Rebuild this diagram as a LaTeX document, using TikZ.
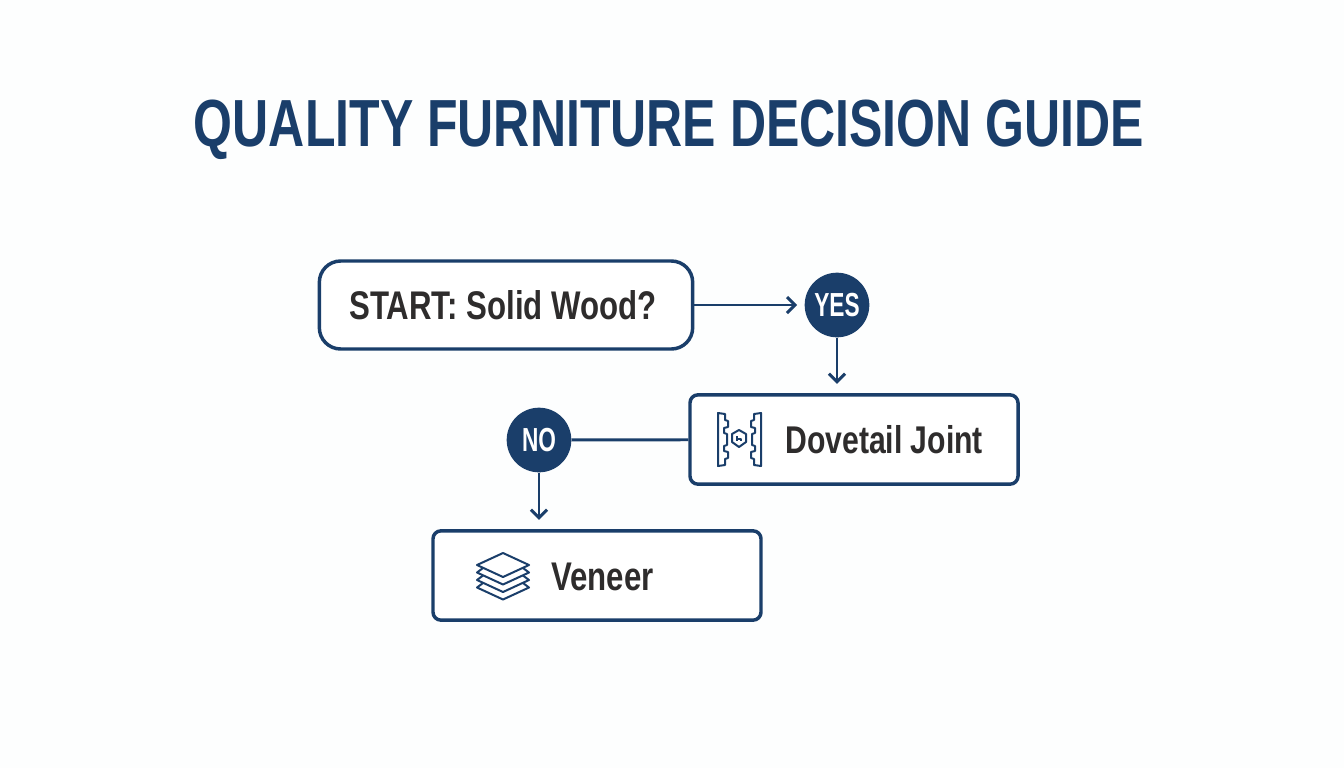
\documentclass[tikz,border=0pt]{standalone}
\usepackage{xcolor}
\usepackage{fontspec}
\setmainfont[FakeStretch=0.75]{Liberation Sans}
\newfontfamily\MyWide[FakeStretch=0.78]{Liberation Sans}
\newfontfamily\MyTight[FakeStretch=0.68]{Liberation Sans}
\usepackage{tikz,pgffor}
\definecolor{MyBlue}{HTML}{1A3E6A}
\definecolor{MyInk}{HTML}{2E2C2C}
\definecolor{MyPaper}{HTML}{FDFEFE}
\tikzset{
	MyPixels/.style={x=0.75pt,y=-0.75pt},
	MyBox/.style={draw=MyBlue,line width=2.6pt,fill=white,rounded corners=6pt,inner sep=0pt},
	MyBadge/.style={circle,fill=MyBlue,text=white,minimum size=48.5pt,inner sep=0pt,font=\MyTight\bfseries\fontsize{25}{27}\selectfont},
	MyLabel/.style={text=MyInk,inner sep=0pt,font=\MyWide\bfseries\fontsize{30}{32}\selectfont},
	MyLink/.style={draw=MyBlue,line width=2.2pt},
	MyTip/.style={-{Straight Barb[length=6pt,width=12pt,line width=2.2pt]}},
	MyIcon/.style={draw=MyBlue,line width=1.5pt,line join=round}
		}
\usetikzlibrary{arrows.meta}

\begin{document}
\begin{tikzpicture}[MyPixels]
	\fill[MyPaper] (0,0) rectangle (1344,768);
	\useasboundingbox (0,0) rectangle (1344,768);

	\node[text=MyBlue,inner sep=0pt,font=\bfseries\fontsize{50}{54}\selectfont] (title) at (669,130) {QUALITY FURNITURE DECISION GUIDE};

	\node[MyBox,rounded corners=16pt,minimum width=280pt,minimum height=66pt] (start) at (506,305) {};
	\node[MyLabel] (startlabel) at (503,305) {START: Solid Wood?};
	\node[MyBox,minimum width=246pt,minimum height=67pt] (dovetail) at (854,439.5) {};
	\node[MyLabel,anchor=west,font=\MyWide\bfseries\fontsize{29}{32}\selectfont] (dovetaillabel) at (785,440) {Dovetail Joint};
	\node[MyBox,minimum width=246pt,minimum height=67pt] (veneer) at (597,575.5) {};
	\node[MyLabel,anchor=west] (veneerlabel) at (551,577) {Veneer};
	\node[MyBadge] (yes) at (837,305) {YES};
	\node[MyBadge] (no) at (539,440) {NO};

	\draw[MyLink,MyTip,shorten >=5.5pt] (start) -- (yes);
	\draw[MyLink,MyTip,shorten >=7pt] (yes) -- (yes|-dovetail.north);
	\draw[MyLink] (dovetail) -- (no);
	\draw[MyLink,MyTip,shorten >=7pt] (no) -- (no|-veneer.north);

	% Dovetail icon: two toothed boards and the small key between them
	\foreach \s/\c in {1/718,-1/761}{%
		\draw[MyIcon,x=\s*0.75pt] (\s*\c,413) -- ++(7,1) -- ++(0,6) -- ++(3,1) -- ++(0,6) -- ++(-4,1) -- ++(0,5)
			-- ++(3,1) -- ++(0,11) -- ++(-3,1) -- ++(0,5) -- ++(4,1) -- ++(0,6) -- ++(-3,1) -- ++(0,6) -- ++(-7,1) -- cycle;
		}
	\draw[MyIcon] (739,430) -- (746,434) -- (746,442) -- (739,447) -- (732,442) -- (732,434) -- cycle;
	\draw[MyIcon,line width=1.2pt] (737,436) -- (737,441) (737,439) -- (741,439) -- (741,441);

	% Veneer icon: stacked sheets, top sheet whole and the others only their front edges
	\draw[MyIcon] (503,553) -- (529,565) -- (503,577) -- (477,565) -- cycle;
	\foreach \i in {1,2,3}{%
		\draw[MyIcon] (483,{565+(\i-1)*7.5+3}) -- (477,{565+\i*7.5}) -- (503,{577+\i*7.5}) -- (529,{565+\i*7.5}) -- (523,{565+(\i-1)*7.5+3});
		}
\end{tikzpicture}
\end{document}
